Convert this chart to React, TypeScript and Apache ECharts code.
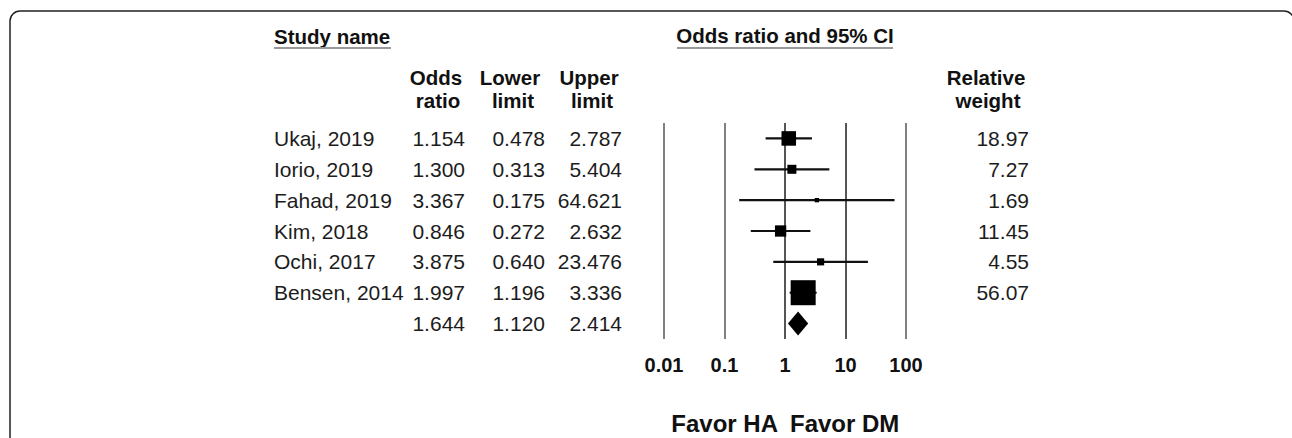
import React, { useEffect, useRef } from "react";
import * as echarts from "echarts";

const studies = ["Ukaj, 2019", "Iorio, 2019", "Fahad, 2019", "Kim, 2018", "Ochi, 2017", "Bensen, 2014", ""];
const oddsRatio = [1.154, 1.3, 3.367, 0.846, 3.875, 1.997, 1.644];
const lowerLimit = [0.478, 0.313, 0.175, 0.272, 0.64, 1.196, 1.12];
const upperLimit = [2.787, 5.404, 64.621, 2.632, 23.476, 3.336, 2.414];
const relWeight = [18.97, 7.27, 1.69, 11.45, 4.55, 56.07, null];
const isSummary = [false, false, false, false, false, false, true];
const tickValues = [0.01, 0.1, 1, 10, 100];
const tickLabels = ["0.01", "0.1", "1", "10", "100"];

const FONT = "'Liberation Sans', Arial, Helvetica, sans-serif";

export default function App() {
  const ref = useRef<HTMLDivElement>(null);
  useEffect(() => {
    if (!ref.current) return;
    const chart = echarts.init(ref.current, null, { renderer: "svg" });
    const rows = oddsRatio.map((v, i) => [v, lowerLimit[i], upperLimit[i], relWeight[i] ?? 0, i, isSummary[i] ? 1 : 0]);
    const dataText = "#1c1c1c";
    const txt = (text: string, x: number, y: number, align: string, size = 21, bold = false, color = dataText) => ({
      type: "text",
      x,
      y,
      style: {
        text,
        fill: color,
        font: `${bold ? "bold " : ""}${size}px ${FONT}`,
        align,
        verticalAlign: "middle",
      },
    });
    const option: any = {
      animation: false,
      backgroundColor: "#ffffff",
      grid: { left: 664, right: 1292 - 906, top: 123, bottom: 438 - 339 },
      xAxis: {
        type: "log",
        logBase: 10,
        min: 0.01,
        max: 100,
        axisLine: { show: false },
        axisTick: { show: false },
        splitLine: {
          show: true,
          lineStyle: { color: ["#808080", "#808080", "#555555", "#555555", "#808080"], width: 2 },
        },
        axisLabel: {
          margin: 16,
          showMinLabel: true,
          showMaxLabel: true,
          fontFamily: FONT,
          fontSize: 20,
          fontWeight: "bold",
          color: "#111",
          formatter: (v: number) => {
            const i = tickValues.findIndex((t) => Math.abs(t - v) / t < 1e-6);
            return i >= 0 ? tickLabels[i] : "";
          },
        },
      },
      yAxis: { type: "value", min: 0, max: 7, inverse: true, show: false },
      series: [
        {
          type: "custom",
          name: "forest",
          clip: false,
          data: rows,
          encode: { x: 0, y: 4 },
          z: 3,
          renderItem: (params: any, api: any) => {
            const row = api.value(4);
            const yc = api.coord([1, row + 0.5])[1];
            const xm = api.coord([api.value(0), row + 0.5])[0];
            const xl = api.coord([api.value(1), row + 0.5])[0];
            const xh = api.coord([api.value(2), row + 0.5])[0];
            if (api.value(5) === 1) {
              const h = 12;
              return {
                type: "polygon",
                shape: { points: [[xl, yc], [xm, yc - h], [xh, yc], [xm, yc + h]] },
                style: { fill: "#000" },
              };
            }
            const s = 3.34 * Math.sqrt(api.value(3));
            return {
              type: "group",
              children: [
                { type: "line", shape: { x1: xl, y1: yc, x2: xh, y2: yc }, style: { stroke: "#111", lineWidth: 2.2 } },
                { type: "rect", shape: { x: xm - s / 2, y: yc - s / 2, width: s, height: s }, style: { fill: "#000" } },
              ],
            };
          },
        },
        {
          type: "custom",
          name: "table",
          clip: false,
          data: rows,
          encode: { x: 0, y: 4 },
          z: 2,
          renderItem: (params: any, api: any) => {
            const i = params.dataIndex;
            const yc = api.coord([1, api.value(4) + 0.5])[1];
            const w = relWeight[i];
            const children: any[] = [
              txt(studies[i], 274, yc, "left"),
              txt(oddsRatio[i].toFixed(3), 465, yc, "right"),
              txt(lowerLimit[i].toFixed(3), 545, yc, "right"),
              txt(upperLimit[i].toFixed(3), 622, yc, "right"),
            ];
            if (w !== null && w !== undefined) children.push(txt(w.toFixed(2), 1029, yc, "right"));
            return { type: "group", children };
          },
        },
      ],
      graphic: [
        {
          type: "rect",
          shape: { x: 10, y: 11, width: 1284, height: 600, r: 10 },
          style: { fill: "none", stroke: "#222", lineWidth: 1.5 },
          z: 0,
        },
        txt("Study name", 274, 36, "left", 20.5, true, "#111"),
        { type: "line", shape: { x1: 274, y1: 48, x2: 391, y2: 48 }, style: { stroke: "#999", lineWidth: 2 } },
        txt("Odds ratio and 95% CI", 785, 35, "center", 20.5, true, "#111"),
        { type: "line", shape: { x1: 677, y1: 48, x2: 893, y2: 48 }, style: { stroke: "#999", lineWidth: 2 } },
        txt("Odds", 436, 77, "center", 20.5, true, "#111"),
        txt("ratio", 438, 100, "center", 20.5, true, "#111"),
        txt("Lower", 510, 77, "center", 20.5, true, "#111"),
        txt("limit", 513, 100, "center", 20.5, true, "#111"),
        txt("Upper", 589, 77, "center", 20.5, true, "#111"),
        txt("limit", 592, 100, "center", 20.5, true, "#111"),
        txt("Relative", 986, 77, "center", 20.5, true, "#111"),
        txt("weight", 988, 100, "center", 20.5, true, "#111"),
        txt("Favor HA", 778, 423, "right", 24, true, "#111"),
        txt("Favor DM", 790, 423, "left", 24, true, "#111"),
      ],
    };
    chart.setOption(option);
    return () => chart.dispose();
  }, []);
  return (
    <div
      ref={ref}
      style={{ position: "fixed", left: 0, top: 0, width: 1292, height: 438, background: "#fff" }}
    />
  );
}
